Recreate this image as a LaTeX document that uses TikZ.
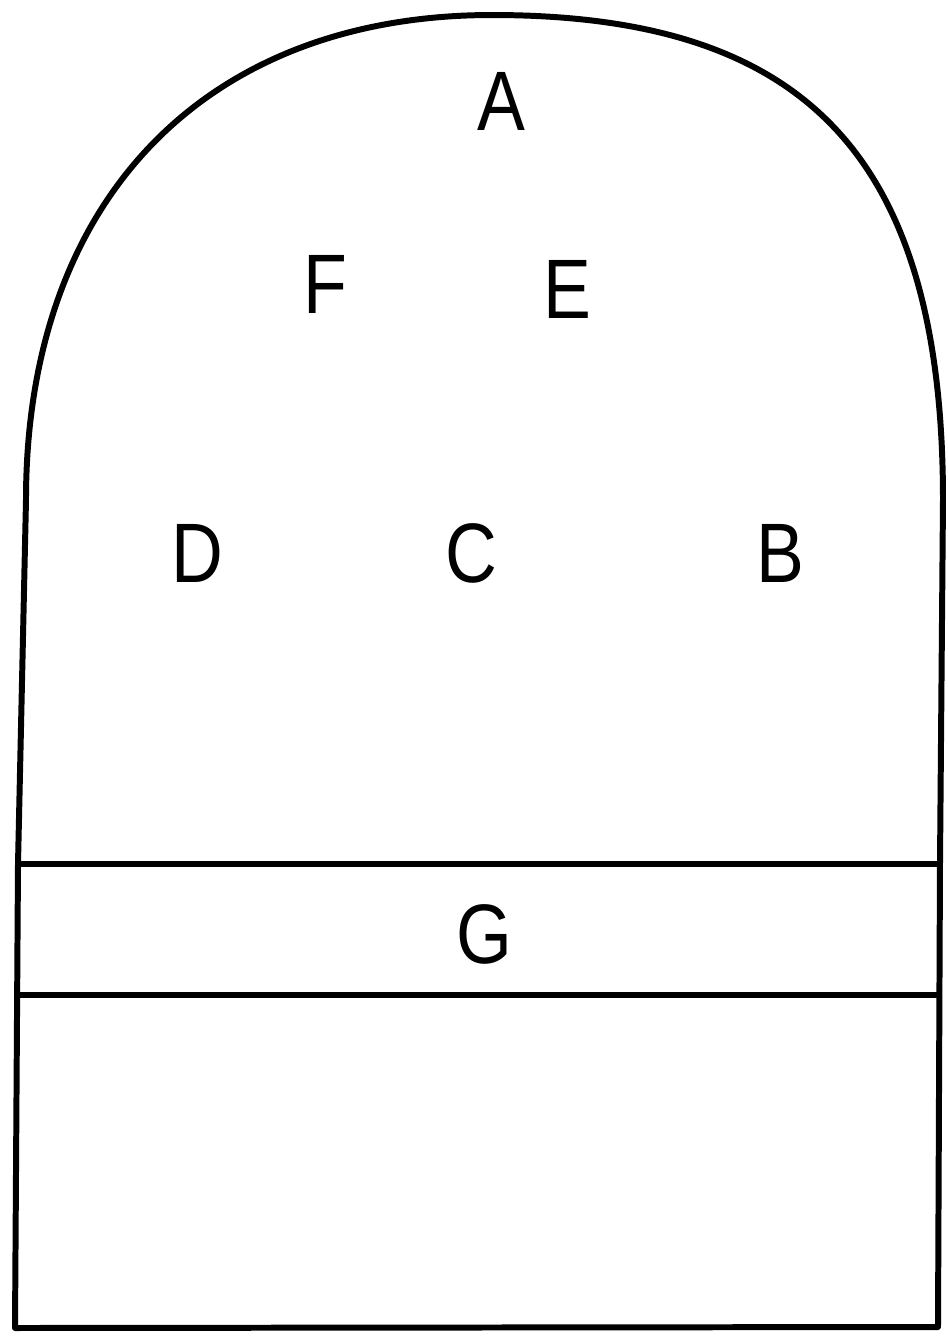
\documentclass[tikz,border=0pt]{standalone}
\usepackage{fontspec}
\setmainfont{Liberation Sans}
\begin{document}
\begin{tikzpicture}[x=0.01cm,y=-0.01cm,
  outline/.style={line width=1.7pt,line join=round,line cap=round},
  lbl/.style={font=\fontsize{24}{26}\selectfont,xscale=0.85,inner sep=0pt,anchor=center}]
\useasboundingbox (0,0) rectangle (948,1341);
% outer outline
\draw[outline] (938,1327) -- (15,1328) -- (18,864) -- (26,500)
  .. controls (26,200) and (205,15) .. (492,15)
  .. controls (800,15) and (943,150) .. (943,500)
  -- (940,864) -- cycle;
% horizontal bands
\draw[outline] (18,864) -- (940,864);
\draw[outline] (17,995) -- (939,995);
% labels
\node[lbl] (A) at (501,101) {A};
\node[lbl] (F) at (325,284) {F};
\node[lbl] (E) at (567,289) {E};
\node[lbl] (D) at (197,553) {D};
\node[lbl] (C) at (471,553) {C};
\node[lbl] (B) at (780,553) {B};
\node[lbl] (G) at (484,934) {G};
\end{tikzpicture}
\end{document}
